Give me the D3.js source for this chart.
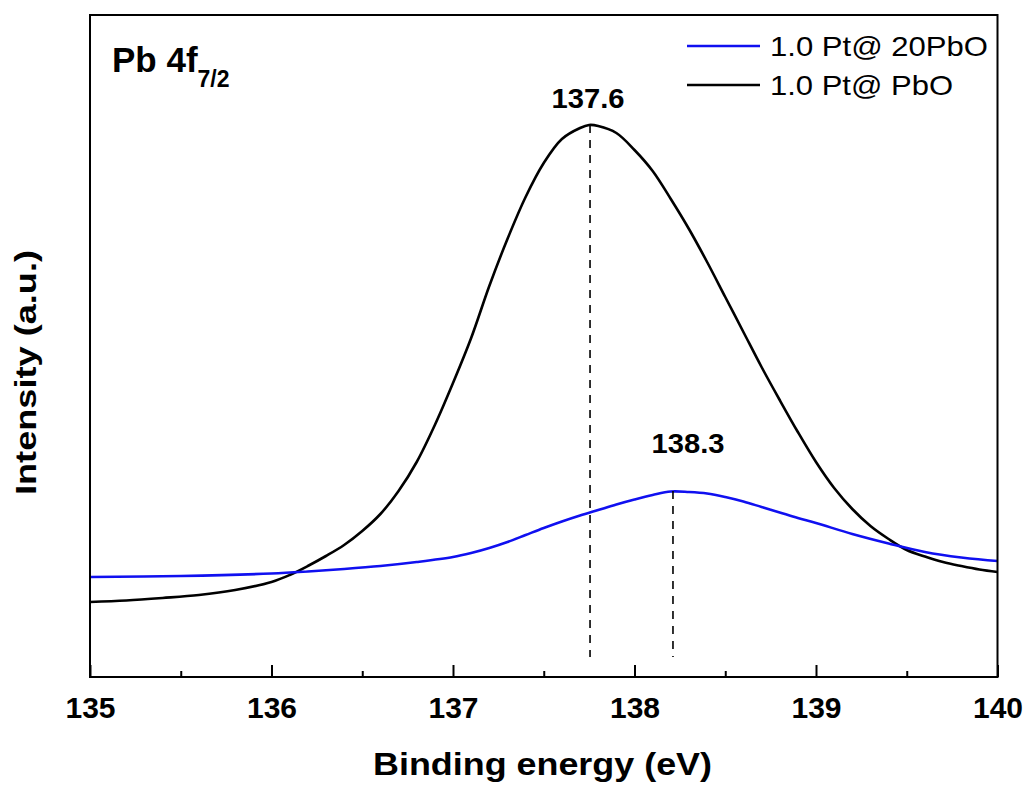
<!DOCTYPE html>
<html>
<head>
<meta charset="utf-8">
<script src="https://cdn.jsdelivr.net/npm/d3@7"></script>
<style>
  html, body { margin: 0; padding: 0; background: #fff; }
  svg { display: block; }
  text { font-family: "Liberation Sans", Arial, sans-serif; }
</style>
</head>
<body>
<svg id="chart" width="1030" height="791"></svg>
<script>
// ---- data (intensity in arbitrary units) ----
const energyPbO = [135.0, 135.2, 135.4, 135.6, 135.8, 136.0, 136.1, 136.2, 136.3, 136.4, 136.5, 136.6, 136.7, 136.8, 136.9, 137.0, 137.1, 137.2, 137.3, 137.4, 137.5, 137.6, 137.7, 137.75, 137.8, 137.9, 138.0, 138.1, 138.2, 138.3, 138.4, 138.5, 138.6, 138.7, 138.8, 138.9, 139.0, 139.1, 139.2, 139.3, 139.4, 139.5, 139.6, 139.7, 139.8, 139.9, 140.0];
const intensityPbO = [75, 76.5, 79, 82, 87, 95, 102, 111, 121, 132, 146, 163, 186, 215, 252, 294, 339, 391, 438, 480, 514, 538, 549, 552, 551, 544, 527, 506, 478, 448, 415, 380, 345, 310, 277, 245, 215, 189, 168, 151, 138, 127, 120.5, 115, 111, 107.5, 105];

const energy20PbO = [135.0, 135.5, 136.0, 136.2, 136.4, 136.6, 136.8, 137.0, 137.1, 137.2, 137.3, 137.4, 137.5, 137.6, 137.7, 137.8, 137.9, 138.0, 138.1, 138.2, 138.3, 138.4, 138.5, 138.6, 138.7, 138.8, 138.9, 139.0, 139.2, 139.4, 139.6, 139.8, 140.0];
const intensity20PbO = [100, 101, 103.5, 105.5, 108, 111, 115, 120, 124, 129, 135, 142, 149, 155.5, 161.5, 167, 172.5, 177.5, 182, 185.5, 185, 183.5, 180, 175.5, 170, 164.5, 159, 154, 143, 133.5, 125, 119.5, 116];

const seriesNames = ["1.0 Pt@ 20PbO", "1.0 Pt@ PbO"];
const seriesColors = ["#1010f0", "#000000"];

const xMajorTicks = [135, 136, 137, 138, 139, 140];
const xMinorTicks = [135.5, 136.5, 137.5, 138.5, 139.5];

const peakEnergies = [137.755, 138.212];
const peakHeights = [552, 186];
const peakLabels = ["137.6", "138.3"];
const peakLabelEnergies = [137.744, 138.295];
const peakLabelHeights = [569, 224];

// ---- layout ----
const svg = d3.select("#chart");
const L = 90, R = 997.5, T = 15, B = 677;
const x = d3.scaleLinear().domain([135, 140]).range([L, R]);
const y = d3.scaleLinear().domain([0, 662]).range([B, T]);

// curves
const line = d3.line().x(d => x(d[0])).y(d => y(d[1])).curve(d3.curveCatmullRom.alpha(0.5));
const blueData = energy20PbO.map((e, i) => [e, intensity20PbO[i]]);
const blackData = energyPbO.map((e, i) => [e, intensityPbO[i]]);

svg.append("path").datum(blackData).attr("d", line)
  .attr("fill", "none").attr("stroke", seriesColors[1]).attr("stroke-width", 2.6);
svg.append("path").datum(blueData).attr("d", line)
  .attr("fill", "none").attr("stroke", seriesColors[0]).attr("stroke-width", 2.6);

// dashed peak markers
peakEnergies.forEach((e, i) => {
  svg.append("line")
    .attr("x1", x(e)).attr("x2", x(e))
    .attr("y1", y(peakHeights[i])).attr("y2", y(20))
    .attr("stroke", "#000").attr("stroke-width", 1.6)
    .attr("stroke-dasharray", "8,7");
  svg.append("text")
    .attr("x", x(peakLabelEnergies[i])).attr("y", y(peakLabelHeights[i]))
    .attr("text-anchor", "middle")
    .attr("font-size", 28).attr("font-weight", "bold")
    .attr("textLength", 73).attr("lengthAdjust", "spacingAndGlyphs")
    .text(peakLabels[i]);
});

// frame
svg.append("rect").attr("x", L).attr("y", T).attr("width", R - L).attr("height", B - T)
  .attr("fill", "none").attr("stroke", "#000").attr("stroke-width", 2);

// bottom axis with inward ticks
const axMajor = d3.axisBottom(x).tickValues(xMajorTicks).tickSize(-12).tickPadding(20)
  .tickFormat(d3.format("d"));
const gx = svg.append("g").attr("transform", `translate(0,${B})`).call(axMajor);
gx.select(".domain").remove();
gx.selectAll(".tick line").attr("stroke", "#000").attr("stroke-width", 2);
gx.selectAll(".tick text").attr("font-size", 30).attr("font-weight", "bold")
  .attr("font-family", "'Liberation Sans', Arial, sans-serif").attr("fill", "#000");

const axMinor = d3.axisBottom(x).tickValues(xMinorTicks).tickSize(-6).tickFormat("");
const gxm = svg.append("g").attr("transform", `translate(0,${B})`).call(axMinor);
gxm.select(".domain").remove();
gxm.selectAll(".tick line").attr("stroke", "#000").attr("stroke-width", 2);

// axis titles
svg.append("text").attr("x", 373).attr("y", 775)
  .attr("font-size", 32).attr("font-weight", "bold")
  .attr("textLength", 339).attr("lengthAdjust", "spacingAndGlyphs")
  .text("Binding energy (eV)");
svg.append("text")
  .attr("transform", `translate(36,495) rotate(-90)`)
  .attr("font-size", 30).attr("font-weight", "bold")
  .attr("textLength", 245).attr("lengthAdjust", "spacingAndGlyphs")
  .text("Intensity (a.u.)");

// panel title
const title = svg.append("text").attr("x", 112).attr("y", 72)
  .attr("font-size", 35).attr("font-weight", "bold");
title.append("tspan").text("Pb 4f");
title.append("tspan").attr("font-size", 23).attr("dy", 15).text("7/2");

// legend
const legendY = [46, 85];
const legendWidths = [218, 183];
seriesNames.forEach((name, i) => {
  svg.append("line").attr("x1", 687).attr("x2", 760)
    .attr("y1", legendY[i]).attr("y2", legendY[i])
    .attr("stroke", seriesColors[i]).attr("stroke-width", 2.6);
  svg.append("text").attr("x", 770).attr("y", legendY[i])
    .attr("dy", "0.36em").attr("font-size", 28)
    .attr("textLength", legendWidths[i]).attr("lengthAdjust", "spacingAndGlyphs")
    .text(name);
});
</script>
</body>
</html>
